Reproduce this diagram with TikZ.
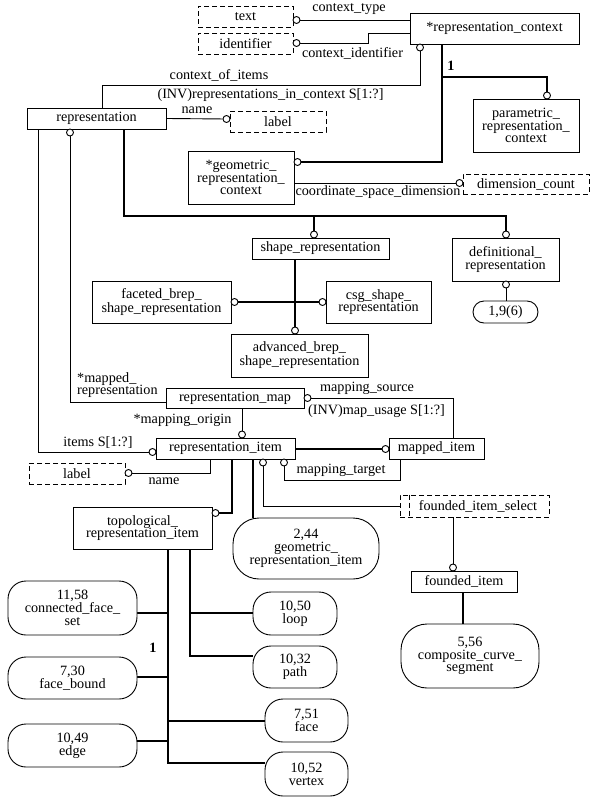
\documentclass[tikz,border=0pt]{standalone}
\usepackage{fontspec}
\setmainfont{Liberation Serif}
\usetikzlibrary{calc, backgrounds}
\newcommand{\dfont}{\fontsize{14.2}{12.8}\selectfont}

\begin{document}
\begin{tikzpicture}[x=1pt, y=-1pt, font=\dfont,
  ent/.style={draw, fill=white, inner sep=1pt, align=center, line width=0.9pt},
  typ/.style={ent, dash pattern=on 5pt off 3pt},
  pref/.style={ent, rounded corners=18pt},
  oc/.style={circle, draw, fill=white, inner sep=0pt, minimum size=7pt, line width=0.9pt},
  lbl/.style={inner sep=0pt},
  rel/.style={line width=0.9pt},
  sub/.style={line width=1.7pt}
]
\useasboundingbox (0,0) rectangle (598,803);

% context part
\node[typ, minimum width=95pt, minimum height=21pt] (text) at (245.5,16.5) {text};
\node[typ, minimum width=95pt, minimum height=21pt] (ident) at (245.5,43.5) {identifier};
\node[ent, minimum width=169pt, minimum height=31pt] (repctx) at (494.5,28.5) {*representation\_context};
\node[ent, minimum width=106pt, minimum height=53pt] (param) at (526,125.5) {parametric\_\\representation\_\\context};
\node[ent, minimum width=139pt, minimum height=21pt] (rep) at (96.5,118.5) {representation};
\node[typ, minimum width=96pt, minimum height=21pt] (lab1) at (278,121.5) {label};
\node[ent, minimum width=106pt, minimum height=53pt] (geoctx) at (241,177.5) {*geometric\_\\representation\_\\context};
\node[typ, minimum width=126pt, minimum height=20pt] (dimc) at (526,184) {dimension\_count};

% representation subtypes
\node[ent, minimum width=137pt, minimum height=21pt] (shaperep) at (320.5,248.5) {shape\_representation};
\node[ent, minimum width=107pt, minimum height=43pt] (defrep) at (505.5,259.5) {definitional\_\\representation};
\node[pref, rounded corners=11pt, minimum width=65pt, minimum height=22pt] (ref196) at (505.5,312) {1,9(6)};
\node[ent, minimum width=139pt, minimum height=42pt] (faceted) at (161.5,302) {faceted\_brep\_\\shape\_representation};
\node[ent, minimum width=105pt, minimum height=42pt] (csg) at (378.5,302) {csg\_shape\_\\representation};
\node[ent, minimum width=137pt, minimum height=43pt] (advbrep) at (299.5,355.5) {advanced\_brep\_\\shape\_representation};

% items
\node[ent, minimum width=138pt, minimum height=20pt] (repmap) at (235,398) {representation\_map};
\node[ent, minimum width=139pt, minimum height=21pt] (repitem) at (225.5,448.5) {representation\_item};
\node[ent, minimum width=95pt, minimum height=21pt] (mapitem) at (436.5,448.5) {mapped\_item};
\node[typ, minimum width=96pt, minimum height=21pt] (lab2) at (77,473.5) {label};
\node[ent, minimum width=139pt, minimum height=42pt] (topo) at (142.5,528) {topological\_\\representation\_item};
\node[typ, minimum width=149pt, minimum height=22pt] (fsel) at (474.5,506) {\hspace{7pt}founded\_item\_select};
\node[ent, minimum width=106pt, minimum height=21pt] (fitem) at (464,581.5) {founded\_item};
\node[pref, rounded corners=26pt, minimum width=146pt, minimum height=61pt] (geoitem) at (306,548.5) {2,44\\geometric\_\\representation\_item};
\node[pref, rounded corners=26pt, minimum width=138pt, minimum height=64pt] (comp) at (470,656) {5,56\\composite\_curve\_\\segment};

% page references
\node[pref, minimum width=129pt, minimum height=54pt] (refcfs) at (72.5,608) {11,58\\connected\_face\_\\set};
\node[pref, minimum width=129pt, minimum height=42pt] (refbound) at (72.5,678) {7,30\\face\_bound};
\node[pref, minimum width=129pt, minimum height=43pt] (refedge) at (72.5,745.5) {10,49\\edge};
\node[pref, minimum width=84pt, minimum height=43pt] (refloop) at (295,613.5) {10,50\\loop};
\node[pref, minimum width=84pt, minimum height=42pt] (refpath) at (295,667) {10,32\\path};
\node[pref, minimum width=83pt, minimum height=43pt] (refface) at (306.5,720.5) {7,51\\face};
\node[pref, minimum width=83pt, minimum height=44pt] (refvertex) at (306.5,774) {10,52\\vertex};

\draw[rel, dash pattern=on 5pt off 3pt] ($(fsel.north west)+(10,0)$) -- ($(fsel.south west)+(10,0)$);

% circles
\node[oc] (cText) at (296.5,20) {};
\node[oc] (cIdent) at (296.5,43) {};
\node[oc] (cCtx) at (420,47.5) {};
\node[oc] (cPar) at (547,95.5) {};
\node[oc] (cGeo) at (297.5,162) {};
\node[oc] (cLab1) at (226.5,119) {};
\node[oc] (cDim) at (459.5,183) {};
\node[oc] (cShape) at (314,234.5) {};
\node[oc] (cDef) at (506,234.5) {};
\node[oc] (cDefb) at (506,284.5) {};
\node[oc] (cFac) at (234.5,302) {};
\node[oc] (cCsg) at (322.5,302) {};
\node[oc] (cAdv) at (295,330.5) {};
\node[oc] (cMaprep) at (70,132.5) {};
\node[oc] (cSrc) at (307.5,398) {};
\node[oc] (cOrig) at (242,434.5) {};
\node[oc] (cItems) at (152.5,452) {};
\node[oc] (cMi) at (385.5,449) {};
\node[oc] (cTarget) at (284,462.5) {};
\node[oc] (cLab2) at (128.5,473) {};
\node[oc] (cTopo) at (215.5,513) {};
\node[oc] (cFsel) at (263,462.5) {};
\node[oc] (cFitem) at (453,567.5) {};

% attribute labels
\node[lbl] (lType) at (349,9) {context\_type};
\node[lbl] (lIdent) at (352.5,53) {context\_identifier};
\node[lbl] (lItems) at (219,75) {context\_of\_items};
\node[lbl] (lInv) at (270.5,95) {(INV)representations\_in\_context S[1:?]};
\node[lbl] (lName) at (197,110) {name};
\node[lbl, font=\dfont\bfseries] (lOne) at (451,66) {1};
\node[lbl] (lDim) at (378,192) {coordinate\_space\_dimension};
\node[lbl, anchor=west, align=left] (lMaprep) at (77,385) {*mapped\_\\representation};
\node[lbl] (lSrc) at (367,388) {mapping\_source};
\node[lbl] (lUsage) at (376.5,411) {(INV)map\_usage S[1:?]};
\node[lbl] (lOrig) at (182.5,420) {*mapping\_origin};
\node[lbl] (lRepItems) at (98,443) {items S[1:?]};
\node[lbl] (lTarget) at (341,470) {mapping\_target};
\node[lbl] (lName2) at (164,481) {name};
\node[lbl, font=\dfont\bfseries] (lOne2) at (153,648) {1};

\begin{scope}[on background layer]
\draw[rel] (cText) -- (cText -| repctx.west);
\draw[rel] (cIdent) -| (368,33) -- (repctx.west |- 368,33);
\draw[rel] (cCtx) |- (102,85) -- (rep.north -| 102,0);
\draw[rel] (rep.east) -- (cLab1);
\draw[rel] (geoctx.east |- cDim) -- (cDim);
\draw[sub] (repctx.south -| 442,0) -- (442,162) -- (cGeo);
\draw[sub] (442,77) -| (cPar);
\draw[sub] (rep.south -| 124,0) |- (400,216) -| (cDef);
\draw[sub] (cShape |- 0,216) -- (cShape);
\draw[rel] (cDefb) -- (ref196.north -| cDefb);
\draw[sub] (shaperep.south -| cAdv) -- (cAdv);
\draw[sub] (cFac) -- (cCsg);
\draw[rel] (cMaprep) |- (repmap.west |- 0,402);
\draw[rel] (cSrc) -| (mapitem.north -| 453,0);
\draw[rel] (cOrig |- repmap.south) -- (cOrig);
\draw[rel] (rep.south -| 38,0) |- (cItems);
\draw[sub] (repitem.east |- cMi) -- (cMi);
\draw[rel] (mapitem.south -| 400,0) |- (cTarget |- 0,480) -- (cTarget);
\draw[rel] (repitem.south -| 210,0) |- (cLab2);
\draw[sub] (repitem.south -| 232,0) |- (cTopo);
\draw[sub] (repitem.south -| 253,0) -- (geoitem.north -| 253,0);
\draw[rel] (cFsel) |- (fsel.west);
\draw[rel] (cFitem |- fsel.south) -- (cFitem);
\draw[sub] (fitem.south -| 463,0) -- (comp.north -| 463,0);
% topological subtypes
\draw[sub] (topo.south -| 168,0) |- (refvertex.west |- 0,763);
\draw[sub] (topo.south -| 190,0) |- (refpath.west |- 0,656);
\draw[sub] (190,613) -- (refloop.west |- 0,613);
\draw[sub] (refcfs.east |- 0,613) -- (168,613);
\draw[sub] (refbound.east |- 0,677) -- (168,677);
\draw[sub] (refedge.east |- 0,741) -- (168,741);
\draw[sub] (168,721) -- (refface.west |- 0,721);
\end{scope}
\end{tikzpicture}
\end{document}
